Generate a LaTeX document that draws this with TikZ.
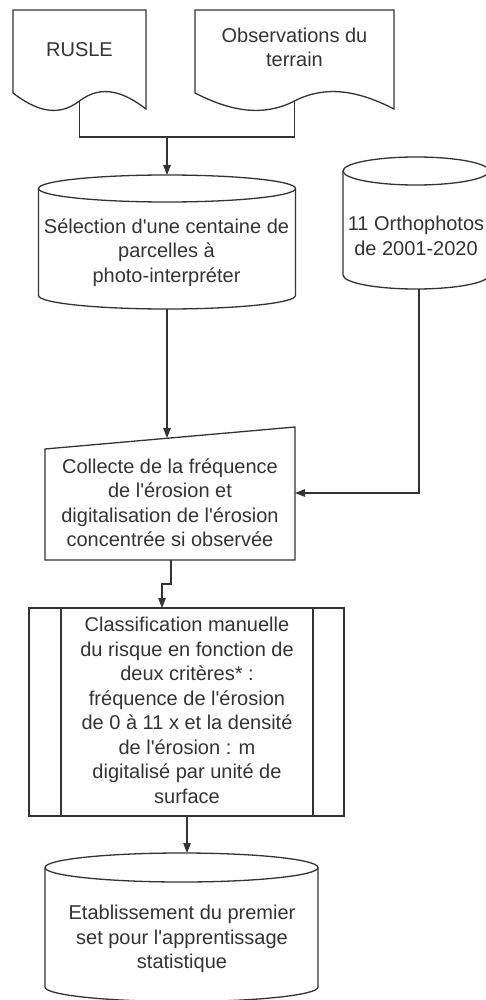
\documentclass[tikz,border=0pt]{standalone}
\usepackage{fontspec}
\setmainfont[Ligatures=TeXOff]{Liberation Sans}
\usetikzlibrary{arrows.meta}
\definecolor{ink}{HTML}{333333}
\begin{document}
\begin{tikzpicture}[x=1pt,y=-1pt,>={Triangle[width=7.5pt,length=10pt]},line width=1.3pt,color=ink,
    txt/.style={align=center,inner sep=0pt,font=\fontsize{20}{24.5}\selectfont}]
  \useasboundingbox (0,0) rectangle (486,1000);
  % documents du haut
  \draw (13,93) -- (13,10) -- (146,10) -- (146,109)
    .. controls (123.8,92) and (101.7,84) .. (79.5,101)
    .. controls (57.3,118) and (35.2,110) .. (13,93) -- cycle;
  \draw (195,93) -- (195,10) -- (394,10) -- (394,109)
    .. controls (360.8,92) and (327.7,84) .. (294.5,101)
    .. controls (261.3,118) and (228.2,110) .. (195,93) -- cycle;
  \node[txt] (rusle) at (79.5,50) {RUSLE};
  \node[txt] (obs) at (294.5,47.5) {Observations du\\terrain};
  \coordinate (rusle-out) at (79.5,101);
  \coordinate (obs-out) at (294.5,101);
  \coordinate (join) at (167,137);
  % bases de donnees
  \draw (38.5,188.5) -- (38.5,295.5) arc[start angle=180,end angle=0,x radius=128.5,y radius=13.5] -- (295.5,188.5);
  \draw (167,188.5) ellipse[x radius=128.5,y radius=13.5];
  \node[txt] (select) at (166.5,252.5) {Sélection d'une centaine de\\parcelles à\\photo-interpréter};
  \coordinate (select-in) at (167,175);
  \coordinate (select-out) at (167,309);
  \draw (343,171) -- (343,275) arc[start angle=180,end angle=0,x radius=73,y radius=14] -- (489,171);
  \draw (416,171) ellipse[x radius=73,y radius=14];
  \node[txt] (ortho) at (416,236) {11 Orthophotos\\de 2001-2020};
  \coordinate (ortho-out) at (419,289);
  % collecte
  \draw (45,449) -- (295,427) -- (295,560) -- (45,560) -- cycle;
  \node[txt] (collecte) at (170,502.5) {Collecte de la fréquence\\de l'érosion et\\digitalisation de l'érosion\\concentrée si observée};
  \coordinate (collecte-in) at (167,438);
  \coordinate (collecte-east) at (295,493);
  \coordinate (collecte-out) at (171,560);
  % classification
  \draw (29,608) rectangle (344,816);
  \draw (61,608) -- (61,816);
  \draw (313,608) -- (313,816);
  \node[txt] (classif) at (187,710.5) {Classification manuelle\\du risque en fonction de\\deux critères* :\\fréquence de l'érosion\\de 0 à 11 x et la densité\\de l'érosion : m\\digitalisé par unité de\\surface};
  \coordinate (classif-in) at (162,608);
  \coordinate (classif-out) at (187,816);
  % resultat
  \draw (45,867.5) -- (45,987) arc[start angle=180,end angle=0,x radius=136.5,y radius=14.5] -- (318,867.5);
  \draw (181.5,867.5) ellipse[x radius=136.5,y radius=14.5];
  \node[txt] (etabl) at (182,939) {Etablissement du premier\\set pour l'apprentissage\\statistique};
  \coordinate (etabl-in) at (187,853);
  % liens
  \draw (rusle-out) |- (join) -| (obs-out);
  \draw[->] (join) -- (select-in);
  \draw[->] (select-out) -- (collecte-in);
  \draw[->] (ortho-out) |- (collecte-east);
  \draw[->] (collecte-out) -- ++(0,24) -| (classif-in);
  \draw[->] (classif-out) -- (etabl-in);
\end{tikzpicture}
\end{document}
